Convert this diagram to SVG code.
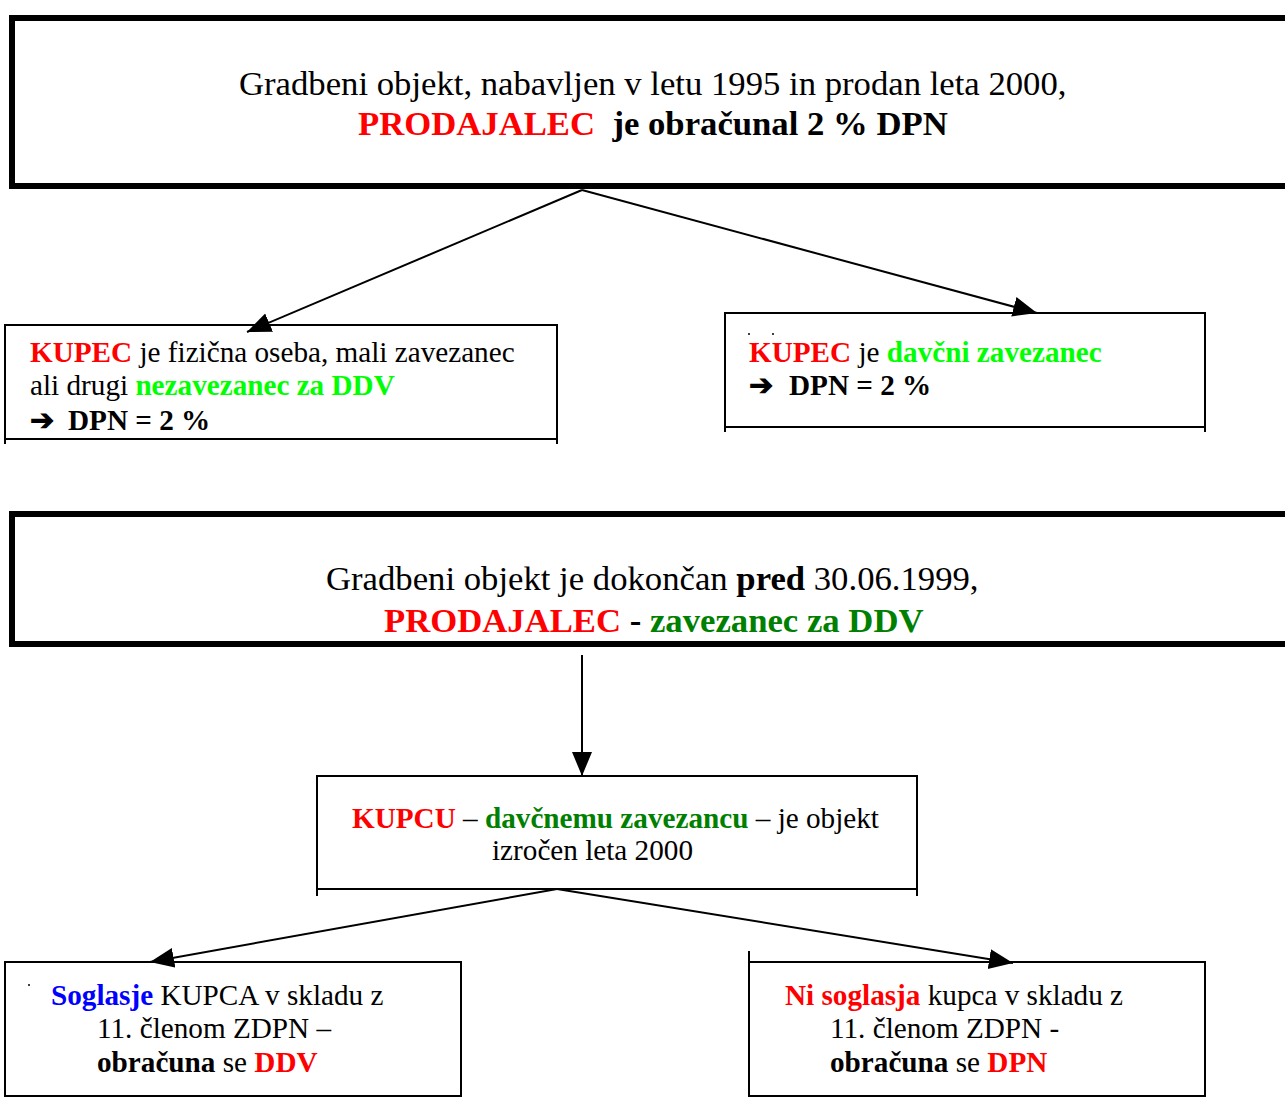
<svg xmlns="http://www.w3.org/2000/svg" width="1285" height="1097" viewBox="0 0 1285 1097">
<style>
text{font-family:"Liberation Serif","Times New Roman",serif;fill:#000}
.big{font-size:34.7px}
.sm{font-size:29.2px}
.b{font-weight:bold}
.r{fill:#ff0000}
.g{fill:#00ff00}
.dg{fill:#008000}
.bl{fill:#0000ff}
.thick{fill:#fff;stroke:#000;stroke-width:6}
.thin{fill:none;stroke:#000;stroke-width:2}
.conn{stroke:#000;stroke-width:2;fill:none;marker-end:url(#ah)}
</style>
<defs>
<marker id="ah" markerUnits="userSpaceOnUse" markerWidth="26" markerHeight="22" refX="24" refY="10" orient="auto">
<path d="M0,0 L24,10 L0,20 Z" fill="#000"/>
</marker>
</defs>
<rect width="1285" height="1097" fill="#fff"/>
<g id="connectors">
<line class="conn" x1="582" y1="190" x2="247" y2="332"/>
<line class="conn" x1="582" y1="190" x2="1037" y2="313"/>
<line class="conn" x1="582" y1="655" x2="582" y2="776"/>
<line class="conn" x1="557" y1="889" x2="150" y2="962"/>
<line class="conn" x1="557" y1="889" x2="1013" y2="963"/>
</g>
<g id="node-top">
<rect class="thick" x="12" y="18" width="1290" height="168"/>
<text class="big" x="239" y="95">Gradbeni objekt, nabavljen v letu 1995 in prodan leta 2000,</text>
<text class="big b" x="358" y="135" xml:space="preserve"><tspan class="r">PRODAJALEC</tspan>  je obračunal 2 % DPN</text>
</g>
<g id="node-left">
<path class="thin" d="M5,444 V325 H557 V444 M5,439 H557"/>
<text class="sm" x="30" y="362"><tspan class="b r">KUPEC</tspan> je fizična oseba, mali zavezanec</text>
<text class="sm" x="30" y="395">ali drugi <tspan class="b g">nezavezanec za DDV</tspan></text>
<text class="sm b" x="30" y="430" font-size="32">➔<tspan x="68" font-size="29.2">DPN = 2 %</tspan></text>
</g>
<g id="node-right">
<path class="thin" d="M725,432 V313 H1205 V432 M725,427 H1205"/>
<circle cx="749" cy="334" r="1" fill="#000"/>
<circle cx="773" cy="334" r="1" fill="#000"/>
<text class="sm" x="749" y="362"><tspan class="b r">KUPEC</tspan> je <tspan class="b g">davčni zavezanec</tspan></text>
<text class="sm b" x="749" y="395" font-size="32">➔<tspan x="789" font-size="29.2">DPN = 2 %</tspan></text>
</g>
<g id="node-mid-top">
<rect class="thick" x="12" y="514" width="1290" height="130"/>
<text class="big" x="326" y="590">Gradbeni objekt je dokončan <tspan class="b">pred</tspan> 30.06.1999,</text>
<text class="big b" x="384" y="632"><tspan class="r">PRODAJALEC</tspan> - <tspan class="dg">zavezanec za DDV</tspan></text>
</g>
<g id="node-mid">
<path class="thin" d="M317,896 V776 H917 V896 M317,889 H917"/>
<text class="sm" x="352" y="828"><tspan class="b r">KUPCU</tspan> – <tspan class="b dg">davčnemu zavezancu</tspan> – je objekt</text>
<text class="sm" x="492" y="860">izročen leta 2000</text>
</g>
<g id="node-bl">
<rect class="thin" x="5" y="962" width="456" height="134"/>
<circle cx="29" cy="985" r="1" fill="#000"/>
<text class="sm" x="51" y="1005"><tspan class="b bl">Soglasje</tspan> KUPCA v skladu z</text>
<text class="sm" x="97" y="1038">11. členom ZDPN –</text>
<text class="sm" x="97" y="1072"><tspan class="b">obračuna</tspan> se <tspan class="b r">DDV</tspan></text>
</g>
<g id="node-br">
<path class="thin" d="M749,951 V1096 H1205 V962 H749"/>
<text class="sm" x="785" y="1005"><tspan class="b r">Ni soglasja</tspan> kupca v skladu z</text>
<text class="sm" x="830" y="1038">11. členom ZDPN -</text>
<text class="sm" x="830" y="1072"><tspan class="b">obračuna</tspan> se <tspan class="b r">DPN</tspan></text>
</g>
</svg>
